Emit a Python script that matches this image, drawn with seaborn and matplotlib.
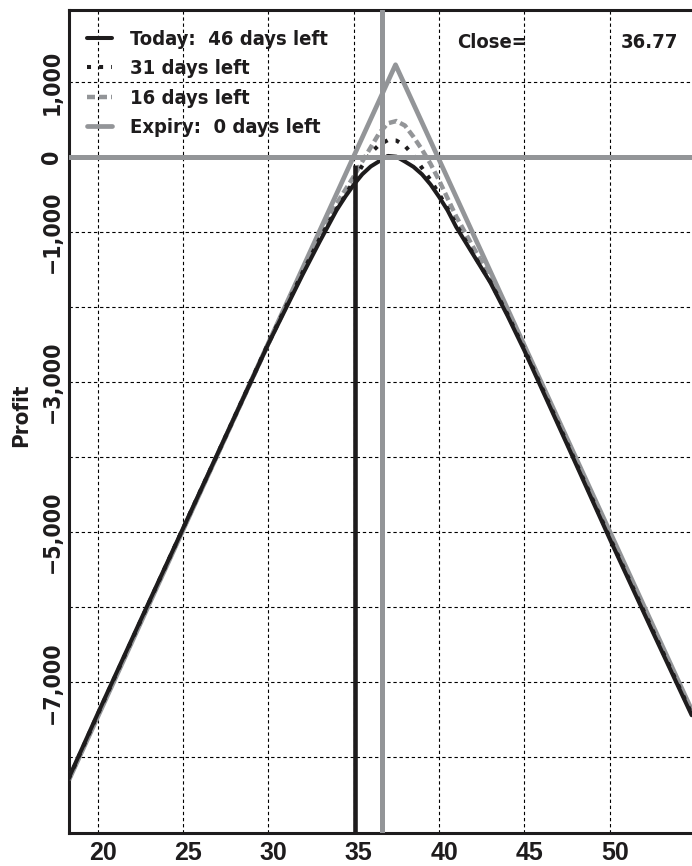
import matplotlib
matplotlib.use("Agg")
import matplotlib.pyplot as plt
import matplotlib.transforms as mtrans
from matplotlib import font_manager as fm
from matplotlib.font_manager import FontProperties
from matplotlib.ticker import FixedLocator, FuncFormatter
import numpy as np
import pandas as pd
import seaborn as sns

# ---------------- data ----------------
price = [18.3, 20, 22.5, 25, 27.5, 30, 32, 33, 34, 34.5, 35, 35.5, 36, 36.5, 37,
         37.5, 38, 38.5, 39, 39.5, 40, 40.5, 41, 42, 43, 44, 45, 47.5, 50, 52.5, 54.8]
today_46 = [-8280, -7420, -6180, -4950, -3720, -2490, -1570, -1130, -707, -530, -370,
            -230, -125, -55, 15, 5, -60, -130, -230, -365, -530, -710, -930, -1300,
            -1670, -2110, -2580, -3830, -5090, -6320, -7440]
days_31 = [-8290, -7430, -6190, -4950, -3720, -2480, -1540, -1090, -690, -520, -310,
           -115, 55, 165, 225, 220, 150, 20, -145, -305, -490, -685, -895, -1290,
           -1660, -2090, -2560, -3810, -5070, -6300, -7420]
days_16 = [-8300, -7440, -6200, -4960, -3730, -2490, -1530, -1060, -620, -440, -260,
           -60, 130, 320, 450, 480, 420, 270, 100, -90, -310, -550, -790, -1200,
           -1600, -2050, -2530, -3780, -5040, -6270, -7400]
expiry_price = [18.3, 37.45, 54.8]
expiry_profit = [-8310, 1230, -7370]

legend_labels = ["Today:  46 days left", "31 days left", "16 days left",
                 "Expiry:  0 days left"]
close_label = "Close="
close_value = "36.77"
close_line_x = 36.65
marker_line_x = 35.1
marker_line_top = -100

x_ticks = [20, 25, 30, 35, 40, 45, 50]
y_ticks = list(range(-8000, 2000, 1000))
y_labelled = [1000, 0, -1000, -3000, -5000, -7000]

# ---------------- style ----------------
sns.set_theme(style="white")
names = {f.name for f in fm.fontManager.ttflist}
if "Liberation Sans Narrow" in names:
    def narrow_fp(size):
        return FontProperties(family="Liberation Sans Narrow", weight="bold", size=size * 1.3)
else:
    def narrow_fp(size):
        return FontProperties(family="DejaVu Sans", stretch="condensed", weight="bold", size=size)
legend_fp = narrow_fp(14.5)
ytick_fp = narrow_fp(16.5)
label_fp = narrow_fp(16)
wide = FontProperties(family="Liberation Sans", weight="bold", size=18)

BLACK = "#1e1c1d"
GRAY = "#939598"

W, H = 692, 866
fig = plt.figure(figsize=(W / 100, H / 100), dpi=100)
ax = fig.add_axes([69 / W, 1 - 833 / H, 1 - 69 / W, (833 - 10) / H])

df = pd.DataFrame({"price": price, "today": today_46, "d31": days_31, "d16": days_16})
edf = pd.DataFrame({"price": expiry_price, "profit": expiry_profit})

sns.lineplot(data=df, x="price", y="today", ax=ax, color=BLACK, lw=2.9,
             label=legend_labels[0], zorder=5, estimator=None, sort=False)
sns.lineplot(data=df, x="price", y="d31", ax=ax, color=BLACK, lw=2.9,
             linestyle=(0, (1, 2)), dash_capstyle="butt",
             label=legend_labels[1], zorder=4, estimator=None, sort=False)
sns.lineplot(data=df, x="price", y="d16", ax=ax, color=GRAY, lw=3.2,
             linestyle=(0, (1.8, 0.9)), dash_capstyle="butt",
             label=legend_labels[2], zorder=3, estimator=None, sort=False)
sns.lineplot(data=edf, x="price", y="profit", ax=ax, color=GRAY, lw=3.4,
             label=legend_labels[3], zorder=2, estimator=None, sort=False)

# reference lines
ax.axhline(0, color=GRAY, lw=3.6, zorder=6)
ax.axvline(close_line_x, color=GRAY, lw=3.6, zorder=6)
ax.vlines(marker_line_x, -9010, marker_line_top, color=BLACK, lw=3.3, zorder=7)

ax.set_xlim(18.32, 54.82)
ax.set_ylim(-9010, 1960)

ax.xaxis.set_major_locator(FixedLocator(x_ticks))
ax.yaxis.set_major_locator(FixedLocator(y_ticks))


def yfmt(v, pos):
    v = int(round(v))
    if v not in y_labelled:
        return ""
    s = f"{abs(v):,}"
    return ("\u2212" + s) if v < 0 else s


ax.yaxis.set_major_formatter(FuncFormatter(yfmt))
ax.grid(True, color="black", lw=0.8, linestyle=(0, (3, 2.5)))
ax.set_axisbelow(True)
ax.tick_params(axis="both", length=0)
ax.tick_params(axis="y", pad=4)
ax.tick_params(axis="x", pad=6)

for lab in ax.get_yticklabels():
    lab.set_fontproperties(ytick_fp)
    lab.set_rotation(90)
    lab.set_va("center")
    lab.set_color(BLACK)
offx = mtrans.ScaledTranslation(5 / 100, 0, fig.dpi_scale_trans)
for lab in ax.get_xticklabels():
    lab.set_fontproperties(wide)
    lab.set_color(BLACK)
    lab.set_transform(lab.get_transform() + offx)

ax.set_xlabel("")
ax.set_ylabel("")
fig.text(21 / W, 1 - 415 / H, "Profit", rotation=90, ha="center", va="center",
         fontproperties=label_fp, color=BLACK)

for side in ["left", "bottom", "top"]:
    ax.spines[side].set_color(BLACK)
    ax.spines[side].set_linewidth(2.2)
ax.spines["right"].set_visible(False)

handles, labels = ax.get_legend_handles_labels()
leg = ax.legend(handles, labels, loc="upper left",
                bbox_to_anchor=(87 / W, 1 - 30 / H), bbox_transform=fig.transFigure,
                frameon=False, prop=legend_fp, handlelength=1.25, handletextpad=0.88,
                labelspacing=0.52, borderpad=0, borderaxespad=0)
for t in leg.get_texts():
    t.set_color(BLACK)

fig.text(457 / W, 1 - 48 / H, close_label, ha="left", va="baseline",
         fontproperties=legend_fp, color=BLACK)
fig.text(621 / W, 1 - 48 / H, close_value, ha="left", va="baseline",
         fontproperties=legend_fp, color=BLACK)

fig.savefig("out.png", dpi=100)
